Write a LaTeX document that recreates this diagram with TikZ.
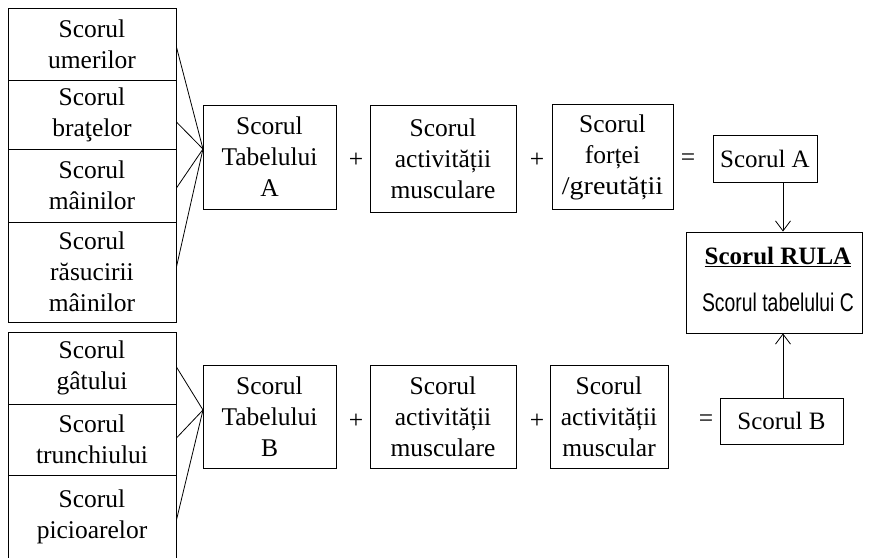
\documentclass[tikz,border=0pt]{standalone}
\usepackage{fontspec}
\setmainfont{Liberation Serif}
\setsansfont{Liberation Sans}
\newfontfamily\nsans[FakeStretch=0.76]{Liberation Sans}
\usetikzlibrary{arrows.meta,calc}
\begin{document}
\begin{tikzpicture}[x=1pt,y=-1pt,
  every node/.style={font=\fontsize{25.5}{31}\selectfont},
  box/.style={draw,line width=0.9pt,inner sep=0pt,align=center},
  sbox/.style={box,font=\fontsize{25}{30}\selectfont},
  sym/.style={inner sep=0pt},
  con/.style={line width=0.8pt},
  arr/.style={line width=0.8pt,-{Straight Barb[length=10pt,width=15pt,line width=0.8pt]}}]
\clip (0,0) rectangle (869,557);
% left column, top group
\node[box,minimum width=168,minimum height=72] (u) at (92,44) {Scorul\\umerilor};
\node[box,minimum width=168,minimum height=69] (b) at (92,114.5) {Scorul\\braţelor};
\node[box,minimum width=168,minimum height=73] (m) at (92,185.5) {Scorul\\mâinilor};
\node[box,minimum width=168,minimum height=100] (r) at (92,272) {Scorul\\răsucirii\\mâinilor};
% left column, bottom group
\node[box,minimum width=168,minimum height=72] (g) at (92,368) {Scorul\\gâtului};
\node[box,minimum width=168,minimum height=71] (t) at (92,439.5) {Scorul\\trunchiului};
\node[box,minimum width=168,minimum height=83] (p) at (92,516.5) {Scorul\\picioarelor};
% row A
\node[box,minimum width=133,minimum height=104] (TA) at (269.5,157) {Scorul\\Tabelului\\A};
\node[sym] (pa1) at (356,160) {+};
\node[box,minimum width=146,minimum height=107] (AA) at (443,158.5) {Scorul\\activității\\musculare};
\node[sym] (pa2) at (537,160) {+};
\node[box,minimum width=121,minimum height=105] (FA) at (612.5,157) {Scorul\\forței\\\scalebox{1.1}[1]{/greutății}};
\node[sym] (ea) at (688,160) {=};
\node[sbox,minimum width=104,minimum height=47] (SA) at (765,158.5) {Scorul A};
% row B
\node[box,minimum width=133,minimum height=103] (TB) at (269.5,416.5) {Scorul\\Tabelului\\B};
\node[sym] (pb1) at (356,421) {+};
\node[box,minimum width=146,minimum height=103] (AB) at (443,416.5) {Scorul\\activității\\musculare};
\node[sym] (pb2) at (537,421) {+};
\node[box,minimum width=118,minimum height=103] (MB) at (609,416.5) {Scorul\\activității\\muscular};
\node[sym] (eb) at (706,421) {=};
\node[sbox,minimum width=123,minimum height=46] (SB) at (781.5,421) {Scorul B};
% RULA
\node[box,minimum width=176,minimum height=101] (RULA) at (774,282.5) {};
\node[sym,font=\fontsize{25}{30}\selectfont] (rt) at (778,257) {\underline{\textbf{Scorul RULA}}};
\node[sym,font=\nsans\fontsize{25.5}{30}\selectfont] (rc) at (778,302) {Scorul tabelului C};
% converging lines
\coordinate (ja) at (203,149);
\coordinate (jb) at (203,410);
\draw[con] ($(u.east)+(0,3)$) -- (ja);
\draw[con] ($(b.east)+(0,7.5)$) -- (ja);
\draw[con] ($(m.east)+(0,2.5)$) -- (ja);
\draw[con] ($(r.east)+(0,-5)$) -- (ja);
\draw[con] ($(g.east)+(0,-1)$) -- (jb);
\draw[con] ($(t.east)+(0,-1.5)$) -- (jb);
\draw[con] ($(p.east)+(0,3.5)$) -- (jb);
% arrows
\path ($(SA.south)+(18,0)$) coordinate (a1);
\draw[arr] (a1) -- (a1 |- RULA.north);
\path ($(SB.north)+(1.5,0)$) coordinate (b1);
\draw[arr] (b1) -- (b1 |- RULA.south);
\end{tikzpicture}
\end{document}
